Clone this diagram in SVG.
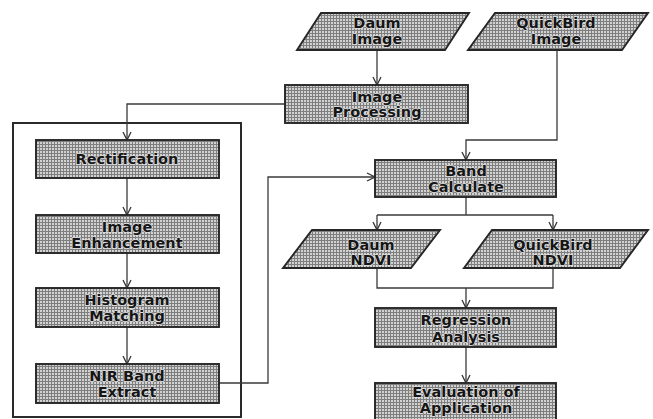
<svg xmlns="http://www.w3.org/2000/svg" width="653" height="419" viewBox="0 0 653 419">
<defs>
<pattern id="mesh" width="3" height="3" patternUnits="userSpaceOnUse">
<rect width="3" height="3" fill="#d2d2d2"/>
<rect width="3" height="1" fill="#7e7e7e"/>
<rect width="1" height="3" fill="#7e7e7e"/>
</pattern>
<marker id="arr" markerWidth="10" markerHeight="10" viewBox="0 0 10 10" refX="9" refY="5" orient="auto" markerUnits="userSpaceOnUse">
<path d="M1,1 L9,5 L1,9" fill="none" stroke="#333" stroke-width="1.3"/>
</marker>
</defs>
<style>
.box{fill:url(#mesh);stroke:#262626;stroke-width:1.9}
.frame{fill:none;stroke:#2a2a2a;stroke-width:2}
.t{font-family:"DejaVu Sans",Verdana,sans-serif;font-weight:bold;font-size:14.5px;fill:#161616;text-anchor:middle;stroke:#dedede;stroke-width:1.5;paint-order:stroke;stroke-linejoin:round}
.c{fill:none;stroke:#3a3a3a;stroke-width:1.3}
.ca{fill:none;stroke:#3a3a3a;stroke-width:1.3;marker-end:url(#arr)}
</style>
<rect class="frame" x="13" y="123" width="228" height="294"/>
<g id="connectors">
<path class="ca" d="M377,50 L377,85"/>
<path class="ca" d="M285,104 L127,104 L127,140"/>
<path class="ca" d="M127,178 L127,215"/>
<path class="ca" d="M127,253 L127,288"/>
<path class="ca" d="M127,327 L127,364"/>
<path class="ca" d="M219,383 L268,383 L268,177 L375,177"/>
<path class="ca" d="M557,50 L557,140 L466,140 L466,160"/>
<path class="c" d="M466,197 L466,215"/>
<path class="c" d="M377,215 L553,215"/>
<path class="ca" d="M377,215 L377,230"/>
<path class="ca" d="M553,215 L553,230"/>
<path class="c" d="M377,268 L377,288 L553,288 L553,268"/>
<path class="ca" d="M466,288 L466,308"/>
<path class="ca" d="M466,347 L466,383"/>
</g>
<g id="daum-image">
<polygon class="box" points="321,13 469,13 445,50 297,50"/>
<text class="t" x="377" y="28">Daum</text>
<text class="t" x="377" y="44">Image</text>
</g>
<g id="quickbird-image">
<polygon class="box" points="495,13 648,13 622,50 468,50"/>
<text class="t" x="556" y="28">QuickBird</text>
<text class="t" x="556" y="44">Image</text>
</g>
<g id="image-processing">
<rect class="box" x="285" y="85" width="183" height="38"/>
<text class="t" x="377" y="102">Image</text>
<text class="t" x="377" y="117">Processing</text>
</g>
<g id="rectification">
<rect class="box" x="36" y="140" width="183" height="38"/>
<text class="t" x="127" y="164">Rectification</text>
</g>
<g id="image-enhancement">
<rect class="box" x="36" y="215" width="183" height="38"/>
<text class="t" x="127" y="232">Image</text>
<text class="t" x="127" y="248">Enhancement</text>
</g>
<g id="histogram-matching">
<rect class="box" x="36" y="288" width="183" height="39"/>
<text class="t" x="127" y="305">Histogram</text>
<text class="t" x="127" y="321">Matching</text>
</g>
<g id="nir-band-extract">
<rect class="box" x="36" y="364" width="183" height="39"/>
<text class="t" x="127" y="381">NIR Band</text>
<text class="t" x="127" y="397">Extract</text>
</g>
<g id="band-calculate">
<rect class="box" x="375" y="160" width="181" height="37"/>
<text class="t" x="466" y="176">Band</text>
<text class="t" x="466" y="192">Calculate</text>
</g>
<g id="daum-ndvi">
<polygon class="box" points="312,230 440,230 411,268 283,268"/>
<text class="t" x="371" y="250">Daum</text>
<text class="t" x="371" y="265">NDVI</text>
</g>
<g id="quickbird-ndvi">
<polygon class="box" points="492,230 648,230 620,268 464,268"/>
<text class="t" x="553" y="250">QuickBird</text>
<text class="t" x="553" y="265">NDVI</text>
</g>
<g id="regression-analysis">
<rect class="box" x="375" y="308" width="181" height="39"/>
<text class="t" x="466" y="325">Regression</text>
<text class="t" x="466" y="342">Analysis</text>
</g>
<g id="evaluation">
<rect class="box" x="375" y="383" width="181" height="40"/>
<text class="t" x="466" y="397">Evaluation of</text>
<text class="t" x="466" y="413">Application</text>
</g>
</svg>
